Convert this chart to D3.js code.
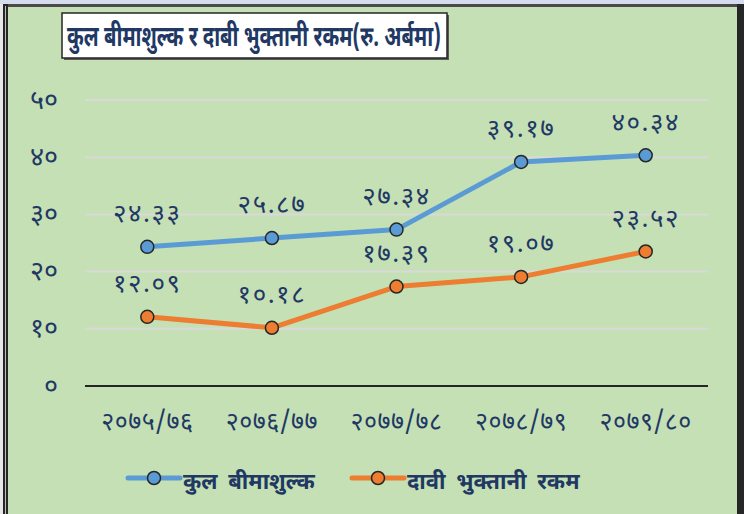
<!DOCTYPE html>
<html>
<head>
<meta charset="utf-8">
<script src="https://cdn.jsdelivr.net/npm/d3@7"></script>
<style>
  body { margin: 0; background: #c5e0b4; }
  svg { display: block; }
  text { font-family: "Noto Sans Devanagari", "Noto Sans", "Lohit Devanagari", sans-serif; fill: #1f3864; }
</style>
</head>
<body>
<div id="chart"></div>
<script>
// insurance premium vs claim payment, Rs. arba

var years = ['२०७५/७६', '२०७६/७७', '२०७७/७८', '२०७८/७९', '२०७९/८०']
var premium = [24.33, 25.87, 27.34, 39.17, 40.34]
var claims = [12.09, 10.18, 17.39, 19.07, 23.52]
var yTicks = [0, 10, 20, 30, 40, 50]
var seriesNames = ['कुल बीमाशुल्क', 'दावी भुक्तानी रकम']
var title = 'कुल बीमाशुल्क र दाबी भुक्तानी रकम(रु. अर्बमा)'

var width = 744,
    height = 514,
    blue = '#5b9bd5',
    orange = '#ed7d31',
    ink = '#1f3864'

// latin digits -> devanagari digits
var devDigits = '०१२३४५६७८९'
function dev(s) {
  return String(s).replace(/[0-9]/g, function(c){ return devDigits[+c] })
}

var x = d3.scalePoint()
          .domain(years)
          .range([85, 708])
          .padding(0.5)

var y = d3.scaleLinear()
          .domain([0, 50])
          .range([386, 100])

var svg = d3.select('#chart')
  .append('svg')
    .attr('width', width)
    .attr('height', height)

// background + frame
svg.append('rect').attr('width', width).attr('height', height).style('fill', '#c5e0b4')
svg.append('rect').attr('x', 0).attr('y', 0).attr('width', width).attr('height', 4).style('fill', '#d6dcee')
svg.append('rect').attr('x', 3).attr('y', 4).attr('width', width).attr('height', 3).style('fill', '#4a4a4a')
svg.append('rect').attr('x', 0).attr('y', 4).attr('width', 3).attr('height', height).style('fill', '#e8e8e8')
svg.append('rect').attr('x', 3).attr('y', 4).attr('width', 5).attr('height', height).style('fill', '#262626')
svg.append('rect').attr('x', 5).attr('y', 6).attr('width', 1).attr('height', height).style('fill', '#bfbfbf')
svg.append('rect').attr('x', 737).attr('y', 4).attr('width', 7).attr('height', height).style('fill', '#262626')

// gridlines
svg.append('g')
  .selectAll('line').data(yTicks.slice(1))
  .enter().append('line')
    .attr('x1', 85)
    .attr('x2', 708)
    .attr('y1', function(d){ return y(d) })
    .attr('y2', function(d){ return y(d) })
    .style('stroke', '#d9d9d9')
    .style('stroke-width', 2)

// x axis baseline
svg.append('line')
  .attr('x1', 85).attr('x2', 708)
  .attr('y1', y(0)).attr('y2', y(0))
  .style('stroke', '#262626')
  .style('stroke-width', 2)

// y labels
svg.append('g')
  .selectAll('text').data(yTicks)
  .enter().append('text')
    .text(function(d){ return dev(d) })
    .attr('x', 58)
    .attr('y', function(d){ return y(d) })
    .attr('dy', '0.32em')
    .attr('text-anchor', 'end')
    .style('font-size', '27px')

// x labels
svg.append('g')
  .selectAll('text').data(years)
  .enter().append('text')
    .text(function(d){ return d })
    .attr('x', function(d){ return x(d) })
    .attr('y', 422)
    .attr('dy', '0.32em')
    .attr('text-anchor', 'middle')
    .style('font-size', '25px')
    .style('letter-spacing', '0.5px')

var line = d3.line()
  .x(function(d, i){ return x(years[i]) })
  .y(function(d){ return y(d) })

function drawSeries(vals, color) {
  svg.append('path')
    .datum(vals)
    .attr('d', line)
    .style('fill', 'none')
    .style('stroke', color)
    .style('stroke-width', 5)
    .style('stroke-linejoin', 'round')

  svg.append('g')
    .selectAll('circle').data(vals)
    .enter().append('circle')
      .attr('cx', function(d, i){ return x(years[i]) })
      .attr('cy', function(d){ return y(d) })
      .attr('r', 6.5)
      .style('fill', color)
      .style('stroke', '#262626')
      .style('stroke-width', 1.5)

  svg.append('g')
    .selectAll('text').data(vals)
    .enter().append('text')
      .text(function(d){ return dev(d.toFixed(2)) })
      .attr('x', function(d, i){ return x(years[i]) })
      .attr('y', function(d){ return y(d) - 33 })
      .attr('dy', '0.32em')
      .attr('text-anchor', 'middle')
      .style('font-size', '26px')
      .style('letter-spacing', '1.5px')
}

drawSeries(premium, blue)
drawSeries(claims, orange)

// title box
svg.append('rect')
  .attr('x', 64).attr('y', 15)
  .attr('width', 385).attr('height', 45)
  .style('fill', '#595959')
svg.append('rect')
  .attr('x', 62).attr('y', 13)
  .attr('width', 385).attr('height', 45)
  .style('fill', '#fff')
  .style('stroke', '#262626')
  .style('stroke-width', 1.5)
svg.append('text')
  .text(title)
  .attr('x', 67)
  .attr('y', 36)
  .attr('dy', '0.35em')
  .attr('textLength', 374)
  .attr('lengthAdjust', 'spacingAndGlyphs')
  .style('font-size', '28px')
  .style('font-weight', 'bold')

// legend
var legend = svg.append('g')
  .selectAll('g').data(seriesNames)
  .enter().append('g')
    .attr('transform', function(d, i){ return 'translate(' + [128 + i * 224, 478] + ')' })

legend.append('line')
  .attr('x1', 0).attr('x2', 52)
  .style('stroke', function(d, i){ return i === 0 ? blue : orange })
  .style('stroke-width', 5)
  .style('stroke-linecap', 'round')
legend.append('circle')
  .attr('cx', 26)
  .attr('r', 6.5)
  .style('fill', function(d, i){ return i === 0 ? blue : orange })
  .style('stroke', '#262626')
  .style('stroke-width', 1.5)
legend.append('text')
  .text(function(d){ return d })
  .attr('x', 55)
  .attr('y', 4)
  .attr('dy', '0.32em')
  .style('font-size', '22px')
  .style('font-weight', 'bold')
  .style('word-spacing', '5px')
</script>
</body>
</html>
